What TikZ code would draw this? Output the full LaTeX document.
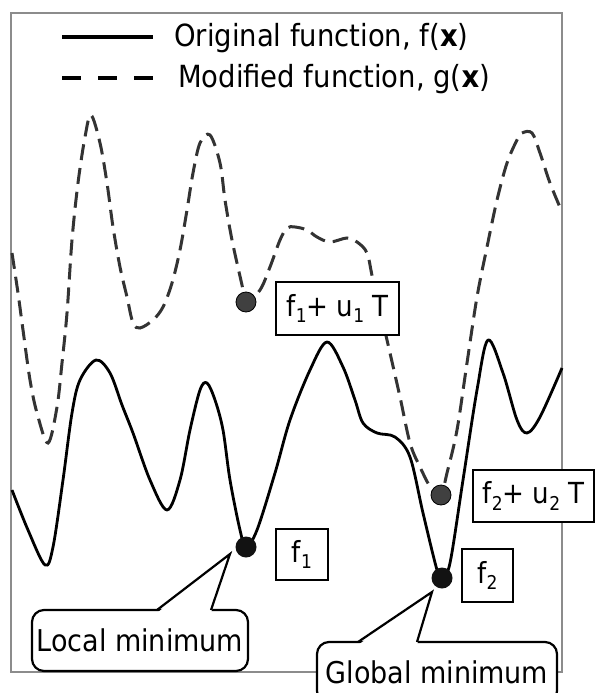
\documentclass[tikz,border=0pt]{standalone}
\usepackage{fontspec}
\setmainfont{DejaVu Sans Condensed}
\usetikzlibrary{calc}
\newcommand\lsub[1]{\raisebox{-0.22em}{\fontsize{19}{19}\selectfont #1}}
\begin{document}
\begin{tikzpicture}[x=1pt,y=-1pt,
  frame/.style={draw=black!45, line width=1.4pt},
  fcurve/.style={line width=2.8pt, black, line join=round},
  gcurve/.style={line width=3pt, color=black!80, dash pattern=on 16pt off 8pt},
  lbl/.style={draw, line width=2.4pt, fill=white, inner sep=0pt, font=\fontsize{29}{35}\selectfont},
  gdot/.style={circle, draw=black, line width=0.8pt, fill=black!75, minimum size=20pt, inner sep=0pt},
  fdot/.style={circle, fill=black!93, minimum size=21pt, inner sep=0pt},
  callout/.style={draw, line width=2.2pt, fill=white, rounded corners=12pt, inner sep=0pt, font=\fontsize{30}{36}\selectfont},
  ptr/.style={line width=2.2pt, line join=miter},
  legtext/.style={anchor=base west, inner sep=0pt, font=\fontsize{30.5}{36}\selectfont}]

\clip (0,0) rectangle (595,693);
\fill[white] (0,0) rectangle (595,693);

% frame
\coordinate (fa) at (11,13);
\coordinate (fb) at (562,672);
\draw[frame] (fa) rectangle (fb);

% legend
\coordinate (l1a) at (62,37);
\coordinate (l1b) at (153,37);
\coordinate (l2a) at (62,78);
\coordinate (l2b) at (153,78);
\draw[line width=4.5pt] (l1a) -- (l1b);
\draw[line width=4.5pt, dash pattern=on 19pt off 17pt] (l2a) -- (l2b);
\node[legtext] (t1) at (174,47) {Original function, f(\textbf{x})};
\node[legtext] (t2) at (178,87) {Modified function, g(\textbf{x})};

% original function f
\draw[fcurve] plot[smooth, tension=0.55] coordinates {
 (12,490) (28,530) (45,565) (53,547) (63,480) (72,413) (80,380) (96,360)
 (110,373) (122,405) (133,433) (150,480) (167,510) (180,480) (190,430)
 (200,390) (207,383) (215,400) (223,430) (230,480) (240,530) (246,547)
 (257,530) (275,473) (290,420) (310,370) (327,342) (343,367) (355,400)
 (363,423) (377,433) (395,437) (410,457) (423,513) (437,570) (442,578)
 (450,563) (463,480) (477,390) (488,340) (503,373) (517,420) (527,433)
 (540,417) (562,368)};

% modified function g
\draw[gcurve] plot[smooth, tension=0.55] coordinates {
 (12,253) (18,293) (23,330) (30,380) (37,413) (48,443) (57,407) (62,363)
 (67,313) (72,240) (78,183) (85,137) (91,115) (100,143) (107,183) (113,227)
 (120,267) (127,297) (133,323) (140,328) (153,320) (163,307) (172,283)
 (180,250) (187,210) (193,173) (200,143) (210,135) (220,163) (225,200)
 (232,240) (242,285) (246,302) (260,290) (270,267) (280,240) (287,228)
 (295,227) (307,230) (317,237) (330,242) (347,238) (357,242) (367,253)
 (373,280) (387,340) (400,397) (410,443) (420,467) (432,490) (441,495)
 (447,473) (457,430) (467,363) (477,297) (487,247) (497,200) (507,163)
 (517,140) (522,133) (532,133) (540,153) (550,183) (562,212)};

% label boxes
\node[lbl, minimum width=123pt, minimum height=53pt] (b1) at (337.5,308.5) {f\lsub{1}+ u\lsub{1} T};
\node[lbl, minimum width=52pt, minimum height=51pt] (b2) at (302,554.5) {f\lsub{1}};
\node[lbl, minimum width=121pt, minimum height=52pt] (b3) at (533.5,496) {f\lsub{2}+ u\lsub{2} T};
\node[lbl, minimum width=51pt, minimum height=53pt] (b4) at (487.5,575.5) {f\lsub{2}};

% dots
\node[gdot] (g1) at (246,302) {};
\node[fdot] (m1) at (246,547) {};
\node[gdot] (g2) at (441,495) {};
\node[fdot] (m2) at (442,578) {};

% callouts
\node[callout, minimum width=216pt, minimum height=61pt] (c1) at (140,640.5) {Local minimum};
\coordinate (p1a) at (157,610);
\coordinate (p1b) at (211,610);
\coordinate (tip1) at (230,554);
\fill[white] (157,613) -- (tip1) -- (211,613) -- cycle;
\draw[ptr] (p1a) -- (tip1) -- (p1b);

\node[callout, minimum width=240pt, minimum height=61pt] (c2) at (437,672.5) {Global minimum};
\coordinate (p2a) at (358,642);
\coordinate (p2b) at (417,642);
\coordinate (tip2) at (432,592);
\fill[white] (358,645) -- (tip2) -- (417,645) -- cycle;
\draw[ptr] (p2a) -- (tip2) -- (p2b);
\end{tikzpicture}
\end{document}
